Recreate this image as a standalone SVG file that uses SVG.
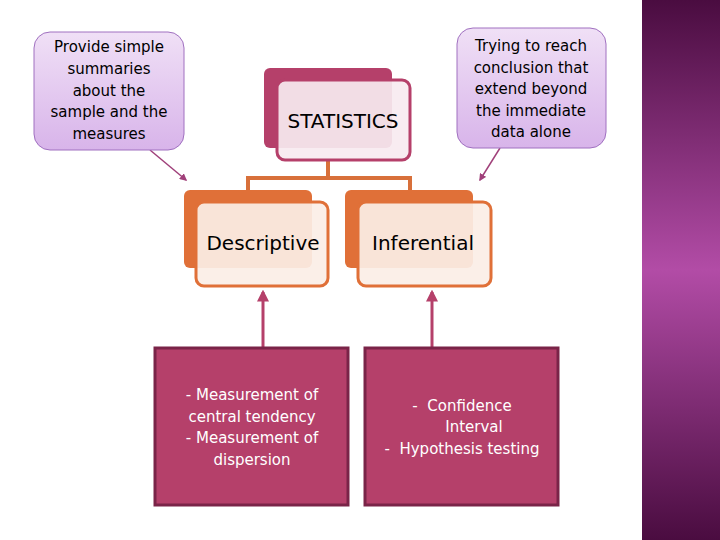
<svg xmlns="http://www.w3.org/2000/svg" width="720" height="540" viewBox="0 0 720 540">
<defs>
<linearGradient id="side" x1="0" y1="0" x2="0" y2="1">
<stop offset="0" stop-color="#4a0c40"/><stop offset="0.5" stop-color="#b24ca6"/><stop offset="1" stop-color="#4a0c40"/>
</linearGradient>
<linearGradient id="call" x1="0" y1="0" x2="0" y2="1">
<stop offset="0" stop-color="#f0e0f6"/><stop offset="1" stop-color="#d8b4ea"/>
</linearGradient>
<marker id="ah" viewBox="0 0 10 10" refX="8" refY="5" markerWidth="4" markerHeight="4" orient="auto"><path d="M0,0L10,5L0,10z" fill="#b5406a"/></marker>
<marker id="ap" viewBox="0 0 10 10" refX="8" refY="5" markerWidth="5" markerHeight="5" orient="auto"><path d="M0,0L10,5L0,10z" fill="#a0407a"/></marker>
<style>
text{font-family:"DejaVu Sans",sans-serif;text-anchor:middle;fill:#000}
.c{font-size:15px}
.w{font-size:15px;fill:#fff}
.big{font-size:20px}
.call{fill:url(#call);stroke:#a070c0;stroke-width:1}
.pb{fill:#b5406a;stroke:#7a2448;stroke-width:3}
.ob{fill:#e07038}
.of{fill:#fbeee6;fill-opacity:0.92;stroke:#e07038;stroke-width:3}
</style>
</defs>
<rect width="720" height="540" fill="#fff"/>
<rect x="642" y="0" width="78" height="540" fill="url(#side)"/>
<g id="connectors" fill="none">
<path d="M328,160V178M248,190V178H410V190" stroke="#d8703a" stroke-width="4"/>
<line x1="150" y1="150" x2="186" y2="180" stroke="#a0407a" stroke-width="1.5" marker-end="url(#ap)"/>
<line x1="500" y1="148" x2="480" y2="180" stroke="#a0407a" stroke-width="1.5" marker-end="url(#ap)"/>
<line x1="263" y1="348" x2="263" y2="292" stroke="#b5406a" stroke-width="3" marker-end="url(#ah)"/>
<line x1="432" y1="348" x2="432" y2="292" stroke="#b5406a" stroke-width="3" marker-end="url(#ah)"/>
</g>
<g id="callout-left"><rect class="call" x="34" y="32" width="150" height="118" rx="16"/>
<text class="c" x="109" y="52">Provide simple</text><text class="c" x="109" y="74">summaries</text><text class="c" x="109" y="96">about the</text><text class="c" x="109" y="117">sample and the</text><text class="c" x="109" y="139">measures</text></g>
<g id="callout-right"><rect class="call" x="457" y="28" width="149" height="120" rx="16"/>
<text class="c" x="531" y="51">Trying to reach</text><text class="c" x="531" y="73">conclusion that</text><text class="c" x="531" y="94">extend beyond</text><text class="c" x="531" y="116">the immediate</text><text class="c" x="531" y="137">data alone</text></g>
<g id="statistics"><rect x="264" y="68" width="128" height="80" rx="6" fill="#b5406a"/>
<rect x="277" y="80" width="133" height="80" rx="8" fill="#f7eaf0" fill-opacity="0.92" stroke="#b5406a" stroke-width="3"/>
<text class="big" x="343" y="128">STATISTICS</text></g>
<g id="descriptive"><rect class="ob" x="184" y="190" width="128" height="78" rx="6"/>
<rect class="of" x="196" y="202" width="132" height="84" rx="8"/>
<text class="big" x="263" y="250">Descriptive</text></g>
<g id="inferential"><rect class="ob" x="345" y="190" width="128" height="78" rx="6"/>
<rect class="of" x="358" y="202" width="133" height="84" rx="8"/>
<text class="big" x="423" y="250">Inferential</text></g>
<g id="desc-detail"><rect class="pb" x="155" y="348" width="193" height="157"/>
<text class="w" x="252" y="400">- Measurement of</text><text class="w" x="252" y="422">central tendency</text><text class="w" x="252" y="443">- Measurement of</text><text class="w" x="252" y="465">dispersion</text></g>
<g id="inf-detail"><rect class="pb" x="365" y="348" width="193" height="157"/>
<text class="w" x="462" y="411" xml:space="preserve">-  Confidence</text><text class="w" x="474" y="432">Interval</text><text class="w" x="462" y="454" xml:space="preserve">-  Hypothesis testing</text></g>
</svg>
